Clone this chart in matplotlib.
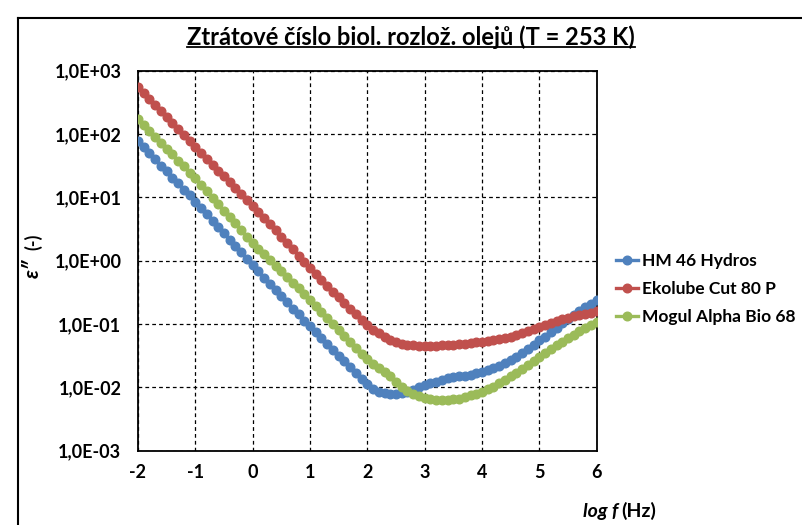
import numpy as np
import matplotlib
matplotlib.use("Agg")
import matplotlib.pyplot as plt
from matplotlib.lines import Line2D
from matplotlib.ticker import FixedLocator, FuncFormatter

plt.rcParams['font.family'] = ['Lato', 'DejaVu Sans']
plt.rcParams['axes.unicode_minus'] = False

# log f (Hz), measured every 0.1 decade
log_f = np.round(np.arange(-2.0, 6.01, 0.1), 1)

# log10 of the loss number for each oil
log_hm46 = [1.89, 1.79, 1.70, 1.60, 1.50, 1.41, 1.31, 1.22, 1.12, 1.03,
            0.93, 0.83, 0.73, 0.63, 0.53, 0.43, 0.33, 0.23, 0.13, 0.03,
            -0.07, -0.17, -0.27, -0.37, -0.47, -0.56, -0.66, -0.76, -0.85, -0.95,
            -1.04, -1.13, -1.23, -1.32, -1.41, -1.50, -1.59, -1.68, -1.77, -1.87,
            -1.95, -2.03, -2.07, -2.09, -2.10, -2.10, -2.09, -2.07, -2.04, -2.00,
            -1.97, -1.94, -1.91, -1.88, -1.86, -1.84, -1.83, -1.82, -1.80, -1.78,
            -1.76, -1.73, -1.70, -1.66, -1.62, -1.57, -1.52, -1.46, -1.40, -1.33,
            -1.26, -1.20, -1.13, -1.06, -0.99, -0.92, -0.86, -0.80, -0.74, -0.68,
            -0.62]
log_ekolube = [2.75, 2.65, 2.55, 2.46, 2.36, 2.27, 2.17, 2.08, 1.98, 1.89,
               1.79, 1.70, 1.61, 1.51, 1.42, 1.33, 1.24, 1.14, 1.05, 0.96,
               0.87, 0.77, 0.67, 0.58, 0.48, 0.38, 0.28, 0.18, 0.08, -0.02,
               -0.12, -0.21, -0.30, -0.40, -0.49, -0.58, -0.67, -0.76, -0.85, -0.94,
               -1.02, -1.09, -1.15, -1.20, -1.25, -1.29, -1.31, -1.33, -1.34, -1.35,
               -1.35, -1.35, -1.35, -1.34, -1.34, -1.33, -1.32, -1.31, -1.30, -1.29,
               -1.28, -1.27, -1.25, -1.24, -1.22, -1.20, -1.17, -1.14, -1.11, -1.08,
               -1.05, -1.01, -0.98, -0.95, -0.92, -0.90, -0.88, -0.86, -0.84, -0.82,
               -0.80]
log_mogul = [2.24, 2.15, 2.05, 1.96, 1.86, 1.77, 1.68, 1.58, 1.49, 1.39,
             1.30, 1.20, 1.10, 0.99, 0.89, 0.79, 0.69, 0.59, 0.48, 0.38,
             0.28, 0.19, 0.10, 0.01, -0.08, -0.17, -0.26, -0.35, -0.44, -0.53,
             -0.62, -0.71, -0.81, -0.90, -1.00, -1.09, -1.19, -1.28, -1.38, -1.47,
             -1.56, -1.63, -1.70, -1.76, -1.82, -1.91, -1.99, -2.06, -2.10, -2.14,
             -2.17, -2.19, -2.20, -2.20, -2.20, -2.19, -2.18, -2.16, -2.13, -2.10,
             -2.07, -2.03, -1.99, -1.94, -1.89, -1.83, -1.77, -1.71, -1.65, -1.58,
             -1.52, -1.46, -1.40, -1.34, -1.28, -1.23, -1.17, -1.12, -1.07, -1.02,
             -0.97]

names = ["HM 46 Hydros", "Ekolube Cut 80 P", "Mogul Alpha Bio 68"]
colors = ["#4F81BD", "#C0504D", "#9BBB59"]
x_ticks = [-2, -1, 0, 1, 2, 3, 4, 5, 6]
y_exps = [-3, -2, -1, 0, 1, 2, 3]

fig = plt.figure(figsize=(8.02, 5.25), dpi=100)
ax = fig.add_axes([138 / 802, 1 - 450.5 / 525, (596.7 - 138) / 802, (450.5 - 70.7) / 525])

for vals, name, c in zip([log_hm46, log_ekolube, log_mogul], names, colors):
    ax.plot(log_f, 10.0 ** np.array(vals), color=c, lw=2.4, marker='o',
            ms=6.2, mec=c, mfc=c, label=name, zorder=3)

ax.set_yscale('log')
ax.set_xlim(-2, 6)
ax.set_ylim(1e-3, 1e3)
ax.xaxis.set_major_locator(FixedLocator(x_ticks))
ax.yaxis.set_major_locator(FixedLocator([10.0 ** e for e in y_exps]))
ax.yaxis.set_minor_locator(FixedLocator([]))
ax.yaxis.set_major_formatter(FuncFormatter(lambda v, p: "1,0E%+03d" % round(np.log10(v))))
ax.tick_params(length=0, labelsize=13)
ax.tick_params(axis='x', pad=10)
ax.tick_params(axis='y', pad=12)
for lab in ax.get_xticklabels() + ax.get_yticklabels():
    lab.set_fontweight('bold')
ax.grid(True, color='black', ls=(0, (3, 2.5)), lw=0.9)
for s in ax.spines.values():
    s.set_linewidth(1.3)

# outer chart frame (left and top edges)
fig.add_artist(Line2D([18 / 802, 18 / 802], [0, 1 - 18 / 525], color='black', lw=1.5))
fig.add_artist(Line2D([18 / 802, 1], [1 - 18 / 525, 1 - 18 / 525], color='black', lw=1.5))

title = fig.text(411 / 802, 1 - 37 / 525, "Ztrátové číslo biol. rozlož. olejů (T = 253 K)",
                 ha='center', va='center', fontsize=17, fontweight='bold')
fig.canvas.draw()
bb = title.get_window_extent().transformed(fig.transFigure.inverted())
fig.add_artist(Line2D([bb.x0, bb.x1], [bb.y0 + 0.004, bb.y0 + 0.004], color='black', lw=1.3))

# axis labels
fig.text(33 / 802, 1 - 268 / 525, "ε″", rotation=90, ha='center', va='center',
         fontsize=15, fontweight='bold', fontstyle='italic')
fig.text(33 / 802, 1 - 242 / 525, "(-)", rotation=90, ha='center', va='center',
         fontsize=13, fontweight='bold')
fig.text(618 / 802, 1 - 511 / 525, "log f", ha='right', va='center',
         fontsize=14, fontweight='bold', fontstyle='italic')
fig.text(621 / 802, 1 - 511 / 525, "(Hz)", ha='left', va='center',
         fontsize=14, fontweight='bold')

leg = fig.legend(loc='upper left', bbox_to_anchor=(616 / 802, 1 - 253 / 525), frameon=False,
                 prop={'size': 12.5, 'weight': 'bold'}, handlelength=1.25, handletextpad=0.25,
                 labelspacing=0.7, borderaxespad=0, borderpad=0)
for h in leg.legend_handles:
    h.set_markersize(6.2)

fig.savefig("out.png", dpi=100)
